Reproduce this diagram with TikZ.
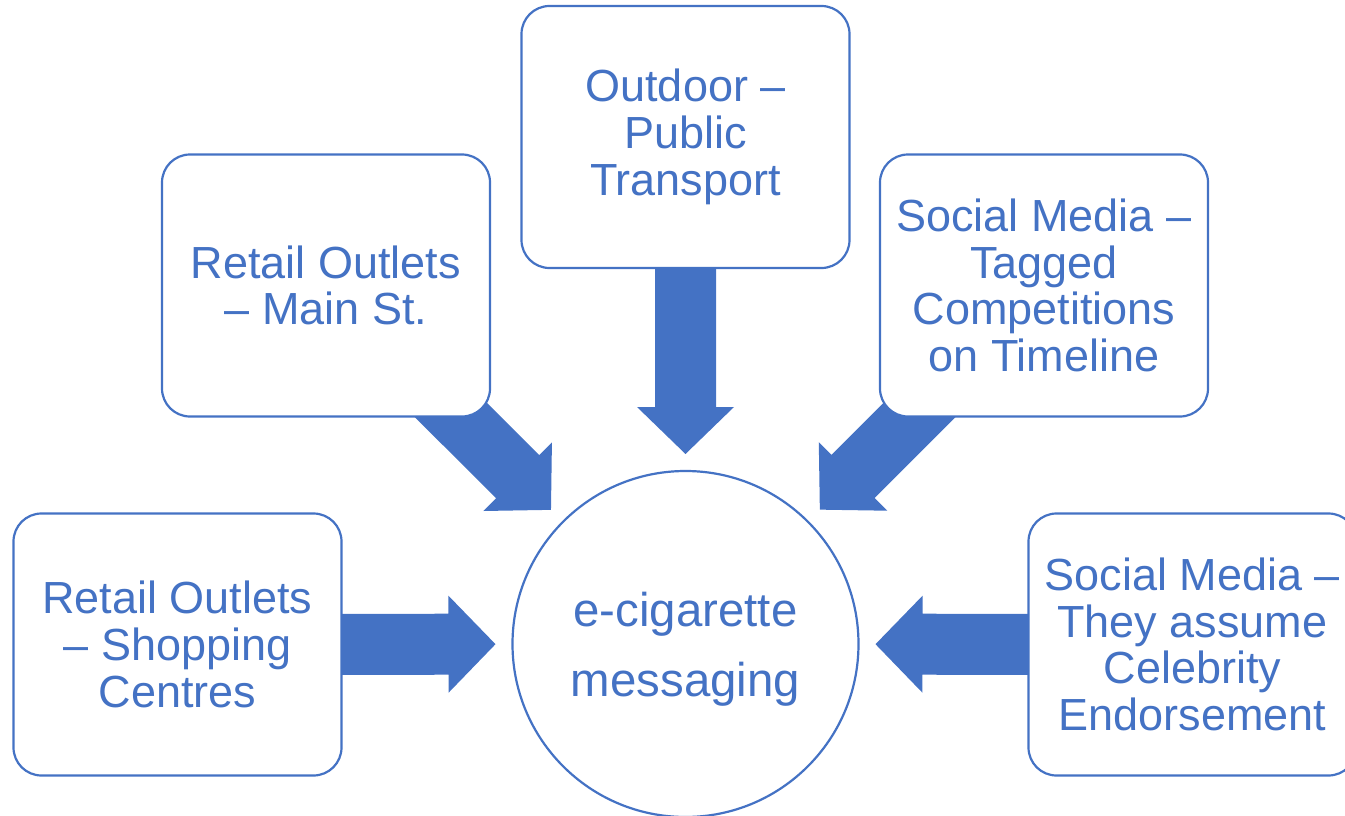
\documentclass[tikz,border=0pt]{standalone}
\usepackage{fontspec}
\setmainfont{Liberation Sans}
\usetikzlibrary{calc}
\definecolor{acc}{HTML}{4472C4}
\pgfdeclarelayer{bg}
\pgfsetlayers{bg,main}
% #1 tail coordinate, #2 tip coordinate
\newcommand\blockarrow[2]{%
  \coordinate (ba) at ($(#2)!47pt!(#1)$);
  \fill[acc] ($(#1)!30.5pt!90:(#2)$) -- ($(ba)!30.5pt!90:(#2)$) -- ($(ba)!48.5pt!90:(#2)$) -- (#2)
    -- ($(ba)!48.5pt!-90:(#2)$) -- ($(ba)!30.5pt!-90:(#2)$) -- ($(#1)!30.5pt!-90:(#2)$) -- cycle;
}
\begin{document}
\begin{tikzpicture}[x=1pt,y=-1pt,
  box/.style={draw=acc, line width=2.2pt, fill=white, rounded corners=28pt,
    minimum width=328pt, minimum height=262pt, align=center, text=acc,
    font=\fontsize{45}{46.7}\selectfont, inner sep=0pt},
  hub/.style={circle, draw=acc, line width=2.2pt, fill=white, minimum size=346pt,
    align=center, text=acc, font=\fontsize{47.4}{70}\selectfont, inner sep=0pt,
    text depth=0pt}]
\clip (0,0) rectangle (1345,816);
\node[hub] (c) at (685.5,644) {e-cigarette\\messaging};
\node[box] (top) at (685.5,137) {Outdoor –\\Public\\Transport};
\node[box] (lu) at (326,285.5) {Retail Outlets\\– Main St.};
\node[box] (ru) at (1044,285.5) {Social Media –\\Tagged\\Competitions\\on Timeline};
\node[box] (lb) at (177.5,644.5) {Retail Outlets\\– Shopping\\Centres};
\node[box] (rb) at (1192.5,644.5) {Social Media –\\They assume\\Celebrity\\Endorsement};
\begin{pgfonlayer}{bg}
\foreach \b in {top,lu,ru,lb,rb} {
  \coordinate (t-\b) at ($(c.center)!190pt!(\b.center)$);
  \coordinate (s-\b) at ($(c.center)!400pt!(\b.center)$);
  \blockarrow{s-\b}{t-\b}
}
\end{pgfonlayer}
\end{tikzpicture}
\end{document}
